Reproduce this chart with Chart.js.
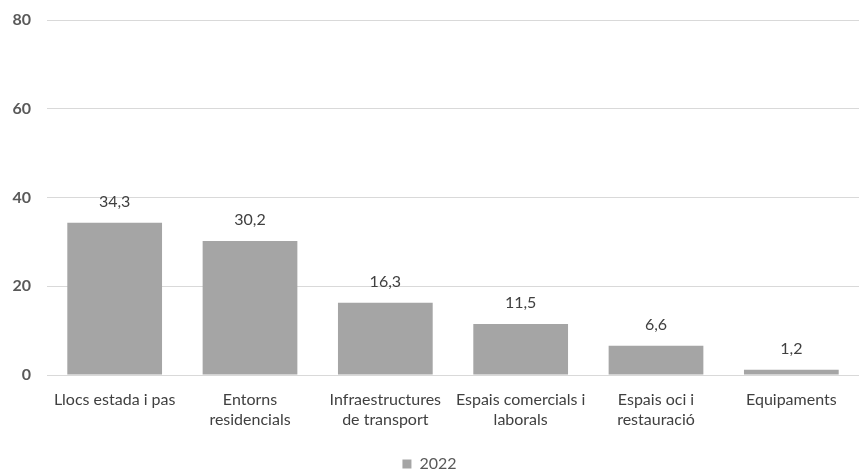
<!DOCTYPE html>
<html>
<head>
<meta charset="utf-8">
<script src="https://cdn.jsdelivr.net/npm/chart.js@4/dist/chart.umd.min.js"></script>
<style>
html,body{margin:0;padding:0;background:#fff;}
#wrap{width:867px;height:474px;position:relative;}
</style>
</head>
<body>
<div id="wrap"><canvas id="c" width="867" height="474"></canvas></div>
<script>
const categories = [
  ['Llocs estada i pas'],
  ['Entorns', 'residencials'],
  ['Infraestructures', 'de transport'],
  ['Espais comercials i', 'laborals'],
  ['Espais oci i', 'restauració'],
  ['Equipaments']
];
const seriesName = '2022';
const values2022 = [34.3, 30.2, 16.3, 11.5, 6.6, 1.2];
const yTicks = [0, 20, 40, 60, 80];

const FONT = 'Lato, "Noto Sans", sans-serif';

const dataLabels = {
  id: 'dataLabels',
  afterDatasetsDraw(chart) {
    const ctx = chart.ctx;
    const meta = chart.getDatasetMeta(0);
    ctx.save();
    ctx.font = '16px ' + FONT;
    ctx.fillStyle = '#404040';
    ctx.textAlign = 'center';
    ctx.textBaseline = 'middle';
    meta.data.forEach((bar, i) => {
      const v = chart.data.datasets[0].data[i];
      ctx.fillText(v.toFixed(1).replace('.', ','), bar.x, bar.y - 21);
    });
    ctx.restore();
  }
};

new Chart(document.getElementById('c'), {
  type: 'bar',
  data: {
    labels: categories,
    datasets: [{
      label: seriesName,
      data: values2022,
      backgroundColor: '#a5a5a5',
      borderWidth: 0,
      barPercentage: 0.70,
      categoryPercentage: 1.0
    }]
  },
  options: {
    responsive: false,
    animation: false,
    layout: { padding: { left: 0, right: 8, top: 20, bottom: -8 } },
    plugins: {
      legend: {
        position: 'bottom',
        labels: {
          boxWidth: 9, boxHeight: 9, padding: 4,
          color: '#595959',
          font: { family: FONT, size: 16 }
        }
      },
      tooltip: { enabled: false }
    },
    scales: {
      x: {
        grid: { display: false, drawTicks: false },
        border: { display: false },
        ticks: {
          color: '#404040',
          padding: 14,
          maxRotation: 0,
          autoSkip: false,
          font: { family: FONT, size: 16, lineHeight: 1.3 }
        },
        afterFit(scale) { scale.height = 77; }
      },
      y: {
        min: 0, max: 80,
        afterBuildTicks(scale) { scale.ticks = yTicks.map(v => ({ value: v })); },
        grid: { color: '#d9d9d9', drawTicks: false, lineWidth: 1 },
        border: { display: false },
        ticks: {
          color: '#595959',
          padding: 16,
          font: { family: FONT, size: 16, weight: 'bold' }
        },
        afterFit(scale) { scale.width = 47; scale.paddingTop = 0; scale.paddingBottom = 0; }
      }
    }
  },
  plugins: [dataLabels]
});
</script>
</body>
</html>
